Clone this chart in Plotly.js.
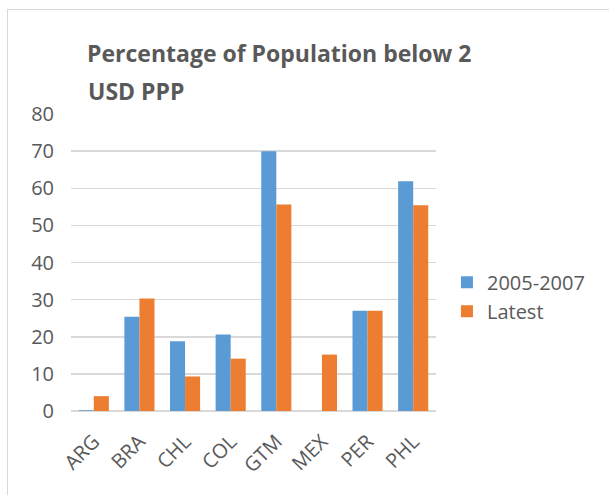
<!DOCTYPE html>
<html>
<head>
<meta charset="utf-8">
<script src="https://cdn.plot.ly/plotly-3.0.1.min.js"></script>
<style>
html,body{margin:0;padding:0;background:#fff;overflow:hidden;}
#chart{position:absolute;left:0;top:0;width:609px;height:495px;}
#frame{position:absolute;left:7px;top:9px;width:700px;height:600px;border:1px solid #d9d9d9;pointer-events:none;}
</style>
</head>
<body>
<div id="chart"></div>
<div id="frame"></div>
<script>
const countries = ["ARG","BRA","CHL","COL","GTM","MEX","PER","PHL"];
const series1Name = "2005-2007";
const series1 = [0.2, 25.4, 18.8, 20.6, 70.0, null, 27.0, 61.9];
const series2Name = "Latest";
const series2 = [4.0, 30.3, 9.3, 14.1, 55.6, 15.2, 27.0, 55.4];
const yTicks = [0,10,20,30,40,50,60,70,80];
const titleLine1 = "Percentage of Population below 2";
const titleLine2 = "USD PPP";

const txt = "#595959";
const font = {family: "Open Sans, Noto Sans, sans-serif", size: 20, color: txt};
const titleFont = {family: "Open Sans, Noto Sans, sans-serif", size: 23, color: txt, weight: "bold"};

const data = [
  {type:"bar", name: series1Name, x: countries, y: series1, marker:{color:"#5B9BD5"}},
  {type:"bar", name: series2Name, x: countries, y: series2, marker:{color:"#ED7D31"}}
];

const layout = {
  width: 609, height: 495,
  margin: {l:71, r:173, t:114, b:84, pad:0},
  paper_bgcolor: "#fff", plot_bgcolor: "#fff",
  font: font,
  barmode: "group", bargap: 0.34, bargroupgap: 0,
  showlegend: true,
  title: {
    text: titleLine1,
    font: titleFont,
    x: 87/609, xanchor: "left", xref: "container",
    y: 1 - 46/495, yanchor: "top", yref: "container"
  },
  annotations: [{
    text: titleLine2, font: titleFont, showarrow: false,
    xref: "paper", yref: "paper", x: (86-71)/365, xanchor: "left",
    y: (411-109)/297, yanchor: "bottom"
  }],
  xaxis: {
    tickangle: -45, showgrid: false, zeroline: false, showline: false,
    tickfont: font, ticks: "outside", ticklen: 10, tickcolor: "rgba(0,0,0,0)", fixedrange: true
  },
  yaxis: {
    range: [0, 80], tickvals: yTicks, ticktext: yTicks.map(String),
    showgrid: true, gridcolor: "#d9d9d9", gridwidth: 1.5,
    zeroline: true, zerolinecolor: "#d9d9d9", zerolinewidth: 1.5,
    showline: false, ticks: "outside", ticklen: 12, tickcolor: "rgba(0,0,0,0)",
    tickfont: font, fixedrange: true
  },
  legend: {
    x: 1.03, xanchor: "left", y: 0.385, yanchor: "middle",
    font: font, bgcolor: "rgba(0,0,0,0)", tracegroupgap: 0
  }
};

Plotly.newPlot("chart", data, layout, {displayModeBar: false, staticPlot: true});
</script>
</body>
</html>
